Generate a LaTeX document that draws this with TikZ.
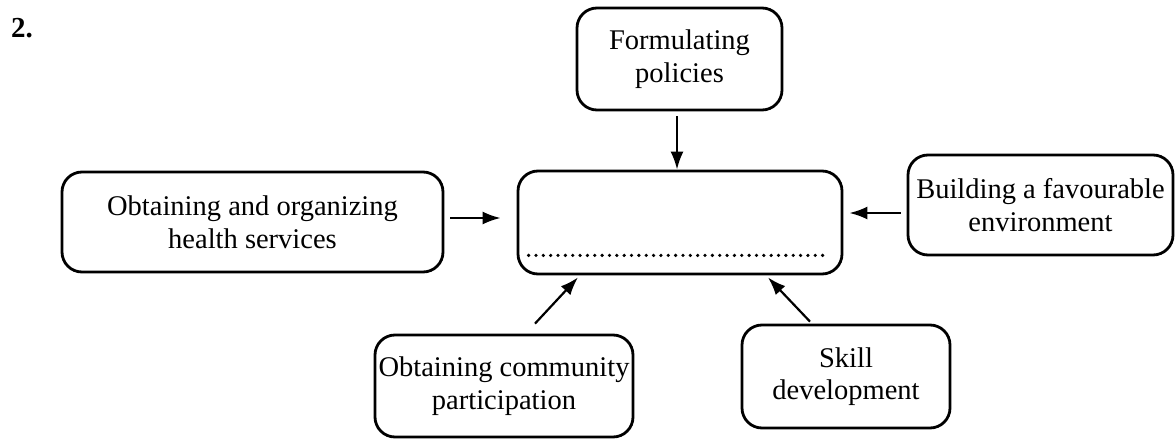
\documentclass[tikz,border=0pt]{standalone}
\usepackage{fontspec}
\setmainfont{Liberation Serif}
\usetikzlibrary{arrows.meta,calc}
\tikzset{
  box/.style={draw, line width=2.8pt, rounded corners=20pt, align=center, inner sep=0pt,
    font=\fontsize{28.5}{32.5}\selectfont},
  arr/.style={line width=2.2pt, -{Latex[length=18pt,width=13pt]}},
}
\begin{document}
\begin{tikzpicture}[x=1pt,y=-1pt]
\useasboundingbox (0,0) rectangle (1175,439);
\node[font=\fontsize{29}{32}\selectfont\bfseries, anchor=base west, inner sep=0pt] (num) at (11,37) {2.};
\node[box, minimum width=205pt, minimum height=102pt] (top) at (679.5,59) {Formulating\\policies};
\node[box, minimum width=381pt, minimum height=100pt] (lft) at (252.5,222) {Obtaining and organizing\\health services};
\node[box, minimum width=324pt, minimum height=103pt] (mid) at (680,222.5) {};
\node[box, minimum width=265pt, minimum height=100pt] (rgt) at (1040.5,205) {Building a favourable\\environment};
\node[box, minimum width=258pt, minimum height=102pt] (bl) at (504,386) {Obtaining community\\participation};
\node[box, minimum width=208pt, minimum height=103pt] (sk) at (846,376.5) {Skill\\development};
\draw[line width=3.6pt, line cap=round, dash pattern=on 0pt off 7.35pt]
  ($(mid.south west)+(12,-20)$) -- ($(mid.south east)+(-17,-20)$);
\coordinate (yL) at (0,218);
\coordinate (yR) at (0,213);
\draw[arr, shorten <=5pt] ([xshift=-2.5pt]top.south) -- ([xshift=-3pt]mid.north);
\draw[arr, shorten <=6pt, shorten >=16pt] (lft.east |- yL) -- (mid.west |- yL);
\draw[arr, shorten <=6pt, shorten >=6pt] (rgt.west |- yR) -- (mid.east |- yR);
\draw[arr] ($(bl.north)+(31,-10)$) -- ($(mid.south)+(-102,2)$);
\draw[arr] ($(sk.north)+(-36,-2)$) -- ($(mid.south)+(88,2)$);
\end{tikzpicture}
\end{document}
